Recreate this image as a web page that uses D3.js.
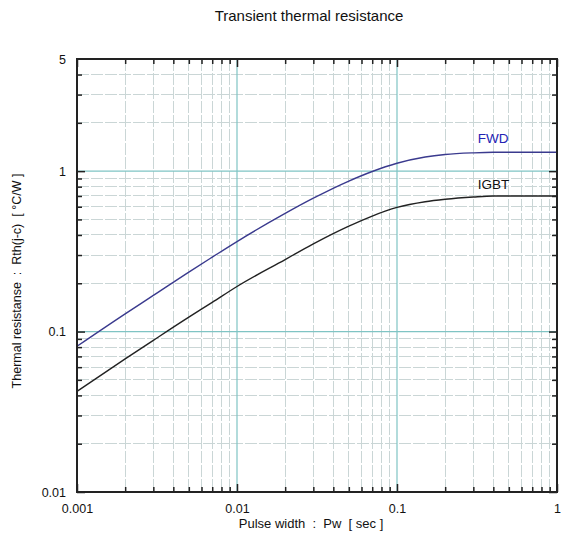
<!DOCTYPE html>
<html>
<head>
<meta charset="utf-8">
<title>Transient thermal resistance</title>
<script src="https://cdn.jsdelivr.net/npm/d3@7/dist/d3.min.js"></script>
<style>
  body { margin: 0; background: #fff; }
  svg text { font-family: "Liberation Sans", Arial, sans-serif; fill: #111; }
  .grid line.minor { shape-rendering: crispEdges; }
</style>
</head>
<body>
<div id="chart"></div>
<script>
// pulse width [sec]
var pulseWidth = [0.001, 0.002, 0.003, 0.005, 0.007, 0.01, 0.02, 0.03, 0.05, 0.07, 0.1, 0.15, 0.2, 0.3, 0.4, 0.6, 1];
// Rth(j-c) [°C/W]
var fwdValues  = [0.081, 0.129, 0.168, 0.235, 0.291, 0.364, 0.545, 0.678, 0.867, 0.995, 1.12, 1.225, 1.27, 1.30, 1.31, 1.31, 1.31];
var igbtValues = [0.0424, 0.0675, 0.0882, 0.123, 0.152, 0.191, 0.281, 0.352, 0.454, 0.525, 0.594, 0.645, 0.668, 0.69, 0.70, 0.70, 0.70];
var seriesNames = ["FWD", "IGBT"];
var xTickLabels = [0.001, 0.01, 0.1, 1];
var yTickLabels = [0.01, 0.1, 1, 5];

var margin = {top: 59, right: 6, bottom: 52, left: 77};
var width = 563 - margin.left - margin.right,
    height = 544 - margin.top - margin.bottom;

var svg = d3.select("#chart").append("svg")
    .attr("width", 563)
    .attr("height", 544);
var g = svg.append("g")
    .attr("transform", "translate(" + margin.left + "," + margin.top + ")");

var x = d3.scaleLog().domain([0.001, 1]).range([0, width]),
    y = d3.scaleLog().domain([0.01, 5]).range([height, 0]);

function isMajor(v) { return Math.abs(Math.log10(v) - Math.round(Math.log10(v))) < 1e-6; }
var xMinor = x.ticks().filter(function(d){ return !isMajor(d); }),
    yMinor = y.ticks().filter(function(d){ return !isMajor(d) && d < 4.5; });
var xMajorGrid = [0.01, 0.1], yMajorGrid = [0.1, 1];

var grid = g.append("g").attr("class", "grid");
// minor grid
grid.selectAll(".vgrid").data(xMinor).enter().append("line")
  .attr("class", "minor")
  .attr("x1", function(d){ return x(d); }).attr("x2", function(d){ return x(d); })
  .attr("y1", 0).attr("y2", height)
  .attr("stroke", "#cad6d6").attr("stroke-dasharray", "12,2");
grid.selectAll(".hgrid").data(yMinor).enter().append("line")
  .attr("class", "minor")
  .attr("x1", 0).attr("x2", width)
  .attr("y1", function(d){ return y(d); }).attr("y2", function(d){ return y(d); })
  .attr("stroke", "#cad6d6").attr("stroke-dasharray", "12,2");
// major grid
grid.selectAll(".vmaj").data(xMajorGrid).enter().append("line")
  .attr("x1", function(d){ return x(d); }).attr("x2", function(d){ return x(d); })
  .attr("y1", 0).attr("y2", height)
  .attr("stroke", "#7fc4c4").attr("stroke-width", 1.2);
grid.selectAll(".hmaj").data(yMajorGrid).enter().append("line")
  .attr("x1", 0).attr("x2", width)
  .attr("y1", function(d){ return y(d); }).attr("y2", function(d){ return y(d); })
  .attr("stroke", "#7fc4c4").attr("stroke-width", 1.2);

// inward ticks on all four sides
function tickAxis(axis, transform, vals, size) {
  var a = g.append("g").attr("transform", transform)
    .call(axis.tickValues(vals).tickSize(size).tickFormat(""));
  a.select(".domain").remove();
  a.selectAll("line").attr("stroke", "#222").attr("stroke-width", 1.5);
}
tickAxis(d3.axisBottom(x), "translate(0," + height + ")", xMinor, -5);
tickAxis(d3.axisBottom(x), "translate(0," + height + ")", xTickLabels, -8);
tickAxis(d3.axisTop(x), "translate(0,0)", xMinor, -5);
tickAxis(d3.axisTop(x), "translate(0,0)", xTickLabels, -8);
tickAxis(d3.axisLeft(y), "translate(0,0)", yMinor, -5);
tickAxis(d3.axisLeft(y), "translate(0,0)", [0.01, 0.1, 1], -8);
tickAxis(d3.axisRight(y), "translate(" + width + ",0)", yMinor, -5);
tickAxis(d3.axisRight(y), "translate(" + width + ",0)", [0.01, 0.1, 1], -8);

// tick labels
var xl = g.append("g").attr("transform", "translate(0," + height + ")")
  .call(d3.axisBottom(x).tickValues(xTickLabels).tickSize(0).tickPadding(12)
    .tickFormat(function(d){ return String(d); }));
xl.select(".domain").remove();
xl.selectAll("text").attr("font-size", "12.5px").attr("font-family", null);

var yl = g.append("g")
  .call(d3.axisLeft(y).tickValues(yTickLabels).tickSize(0).tickPadding(11)
    .tickFormat(function(d){ return String(d); }));
yl.select(".domain").remove();
yl.selectAll("text").attr("font-size", "12.5px").attr("font-family", null);

// curves
var line = d3.line()
  .x(function(d){ return x(d[0]); })
  .y(function(d){ return y(d[1]); })
  .curve(d3.curveMonotoneX);

var series = [
  {name: seriesNames[0], values: fwdValues, color: "#3a3a8e", label: "#2323b4", dy: -9},
  {name: seriesNames[1], values: igbtValues, color: "#222222", label: "#111", dy: -7}
];

series.forEach(function(s){
  var pts = pulseWidth.map(function(p, i){ return [p, s.values[i]]; });
  g.append("path")
    .attr("d", line(pts))
    .attr("fill", "none")
    .attr("stroke", s.color)
    .attr("stroke-width", 1.4);
  g.append("text")
    .attr("x", x(0.32))
    .attr("y", y(s.values[s.values.length - 1]) + s.dy)
    .attr("font-size", "13.5px")
    .style("fill", s.label)
    .text(s.name);
});

// frame
g.append("rect")
  .attr("width", width).attr("height", height)
  .attr("fill", "none").attr("stroke", "#222").attr("stroke-width", 2);

// titles
svg.append("text")
  .attr("x", 309).attr("y", 21)
  .attr("text-anchor", "middle").attr("font-size", "15px")
  .text("Transient thermal resistance");

svg.append("text")
  .attr("x", 311).attr("y", 528)
  .attr("text-anchor", "middle").attr("font-size", "13px")
  .attr("xml:space", "preserve")
  .text("Pulse width  :  Pw  [ sec ]");

svg.append("text")
  .attr("transform", "translate(21,281) rotate(-90)")
  .attr("text-anchor", "middle").attr("font-size", "12.5px")
  .attr("xml:space", "preserve")
  .text("Thermal resistanse  :  Rth(j-c)  [ °C/W ]");
</script>
</body>
</html>
